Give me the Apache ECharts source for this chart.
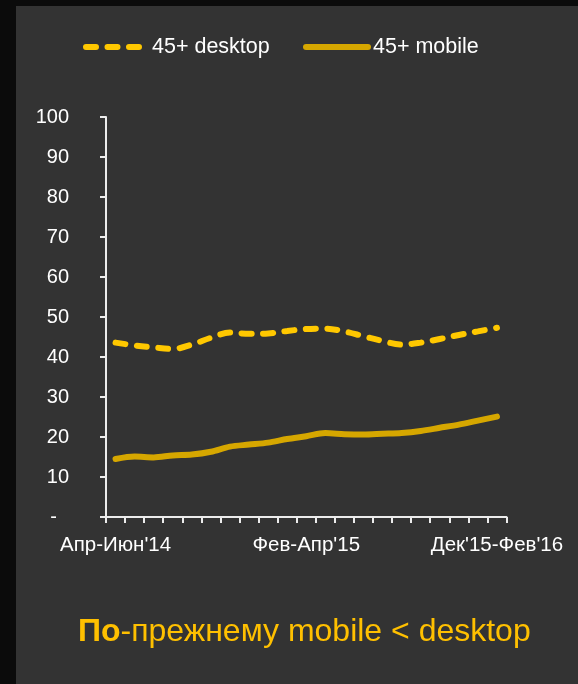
<!DOCTYPE html>
<html>
<head>
<meta charset="utf-8">
<script src="https://cdn.jsdelivr.net/npm/echarts@6/dist/echarts.min.js"></script>
<style>
html,body{margin:0;padding:0;background:#0b0b0b;}
#c{width:578px;height:684px;}
</style>
</head>
<body>
<div id="c"></div>
<script>
const categories = ["Апр-Июн'14","Май-Июл'14","Июн-Авг'14","Июл-Сен'14","Авг-Окт'14","Сен-Ноя'14","Окт-Дек'14","Ноя'14-Янв'15","Дек'14-Фев'15","Янв-Мар'15","Фев-Апр'15","Мар-Май'15","Апр-Июн'15","Май-Июл'15","Июн-Авг'15","Июл-Сен'15","Авг-Окт'15","Сен-Ноя'15","Окт-Дек'15","Ноя'15-Янв'16","Дек'15-Фев'16"];
const desktop45 = [43.6,42.9,42.4,42.0,43.1,44.8,46.1,45.8,45.9,46.5,47.0,47.1,46.4,45.2,44.0,43.1,43.6,44.5,45.5,46.4,47.3];
const mobile45 = [14.5,15.1,14.9,15.4,15.6,16.3,17.6,18.1,18.6,19.5,20.2,21.0,20.7,20.6,20.8,21.0,21.5,22.3,23.1,24.1,25.1];
const seriesNames = ['45+ desktop','45+ mobile'];
const titleBold = 'По';
const titleRest = '-прежнему mobile < desktop';

const FONT = 'Liberation Sans, Arial, sans-serif';
const chart = echarts.init(document.getElementById('c'), null, {renderer:'canvas'});
const hiddenSymbol = {opacity: 0, color: 'rgba(0,0,0,0)', borderWidth: 0};
chart.setOption({
  backgroundColor: '#333333',
  animation: false,
  graphic: [
    {type:'rect', left:0, top:0, z:-10, shape:{width:16, height:684}, style:{fill:'#0b0b0b'}},
    {type:'rect', left:0, top:0, z:-10, shape:{width:578, height:6}, style:{fill:'#0b0b0b'}}
  ],
  title: {
    text: '{b|' + titleBold + '}{n|' + titleRest + '}',
    left: 73, top: 611,
    textStyle: {
      fontWeight: 'normal',
      rich: {
        b: {fontFamily: FONT, fontSize: 32, fontWeight: 'bold', color: '#FFC000'},
        n: {fontFamily: FONT, fontSize: 32, fontWeight: 'normal', color: '#FFC000'}
      }
    }
  },
  legend: [
    {
      data: [seriesNames[0]], left: 78, top: 31, itemWidth: 59, itemHeight: 14,
      textStyle: {color: '#ffffff', fontSize: 21.5, fontFamily: FONT, padding: [0,0,0,2]},
      lineStyle: {width: 6},
      itemStyle: hiddenSymbol
    },
    {
      data: [seriesNames[1]], left: 298, top: 31, itemWidth: 62, itemHeight: 14,
      textStyle: {color: '#ffffff', fontSize: 21.5, fontFamily: FONT},
      lineStyle: {width: 6},
      itemStyle: hiddenSymbol
    }
  ],
  grid: {left: 106, right: 71.5, top: 117, bottom: 167, containLabel: false},
  xAxis: {
    type: 'category', data: categories, boundaryGap: true,
    axisLine: {show: true, lineStyle: {color: '#ececec', width: 2}},
    axisTick: {show: true, interval: 0, alignWithLabel: false, length: 6, lineStyle: {color: '#ececec', width: 2}},
    axisLabel: {interval: 9, color: '#ffffff', fontSize: 20.5, fontFamily: FONT, margin: 18, showMaxLabel: true},
    splitLine: {show: false}
  },
  yAxis: {
    type: 'value', min: 0, max: 100, interval: 10,
    axisLine: {show: true, lineStyle: {color: '#ececec', width: 2}},
    axisTick: {show: true, length: 6, lineStyle: {color: '#ececec', width: 2}},
    axisLabel: {
      color: '#ffffff', fontSize: 20, fontFamily: FONT, margin: 37,
      formatter: function(v){ return v === 0 ? '{d|-}' : String(v); },
      rich: {d: {fontSize: 20, fontFamily: FONT, color: '#ffffff', padding: [0, 12, 0, 0]}}
    },
    splitLine: {show: false}
  },
  series: [
    {
      name: seriesNames[0], type: 'line', data: desktop45, smooth: 0.35,
      symbol: 'none', color: '#FFC800',
      lineStyle: {color: '#FFC800', width: 6, type: [10, 11.5], cap: 'round'}
    },
    {
      name: seriesNames[1], type: 'line', data: mobile45, smooth: 0.3,
      symbol: 'none', color: '#D6A700',
      lineStyle: {color: '#D6A700', width: 6, type: 'solid', cap: 'round'}
    }
  ]
});
</script>
</body>
</html>
